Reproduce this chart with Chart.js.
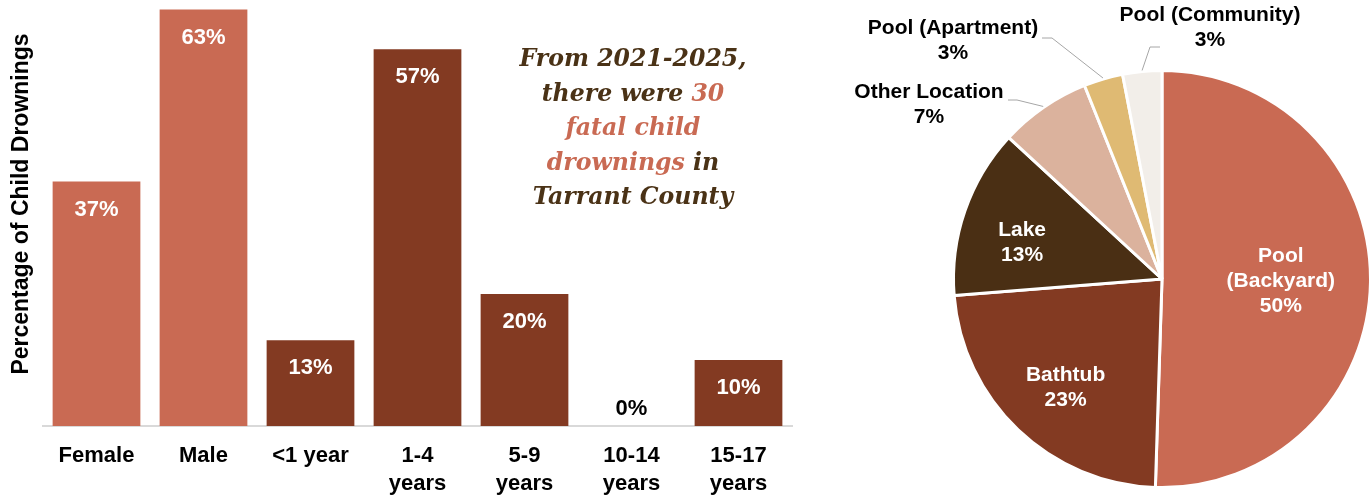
<!DOCTYPE html>
<html>
<head>
<meta charset="utf-8">
<script src="https://cdn.jsdelivr.net/npm/chart.js@4.4.0/dist/chart.umd.min.js"></script>
<style>
  body{margin:0;background:#fff;width:1372px;height:497px;overflow:hidden;position:relative;font-family:"Liberation Sans",Arial,sans-serif}
  #barCanvas{position:absolute;left:0;top:0}
  #pieCanvas{position:absolute;left:840px;top:0}
  #note{position:absolute;left:498px;top:41px;width:270px;text-align:center;font-family:"DejaVu Serif",Georgia,serif;font-weight:bold;font-style:italic;font-size:23.6px;line-height:34.5px;color:#4a3216}
  #note .hl{color:#c96a53}
</style>
</head>
<body>
<canvas id="barCanvas" width="800" height="514"></canvas>
<div id="note">From 2021-2025,<br>there were <span class="hl">30</span><br><span class="hl">fatal child</span><br><span class="hl">drownings</span> in<br>Tarrant County</div>
<canvas id="pieCanvas" width="532" height="497"></canvas>
<script>
// bar: share of child drownings by sex and age
const barCategories = ['Female','Male','<1 year',['1-4','years'],['5-9','years'],['10-14','years'],['15-17','years']];
const barValues = [37,63,13,57,20,0,10];
const yTitle = 'Percentage of Child Drownings';

// pie: drowning location
const pieCategories = [['Pool','(Backyard)'],['Bathtub'],['Lake'],['Other Location'],['Pool (Apartment)'],['Pool (Community)']];
const pieValues = [50,23,13,7,3,3];

const salmon = '#c96a53', brown = '#833a22';
const barColors = [salmon,salmon,brown,brown,brown,brown,brown];
const pieColors = [salmon,brown,'#4a2f14','#dbb29d','#dfba73','#f2eee9'];
const font = '"Liberation Sans", Arial, sans-serif';

// inside labels sit at a fraction of the radius, callouts get leader lines
const pieLabelSpots = [
  {inside:0.57, dy:0},
  {inside:0.67, dy:8},
  {inside:0.71, dy:12},
  {text:[89,92], elbow:[177,100], end:[168,100]},
  {text:[113,28], elbow:[212,38], end:[202,38]},
  {text:[370,15], elbow:[310,47], end:[320,47]}
];

// y title drawn by hand so it can sit a bit above the plot centre like the original
const yTitlePlugin = {
  id:'yTitlePlugin',
  afterDraw(chart){
    const ctx = chart.ctx;
    ctx.save();
    ctx.translate(22, 204);
    ctx.rotate(-Math.PI/2);
    ctx.font = 'bold 23px ' + font;
    ctx.fillStyle = '#000';
    ctx.textAlign = 'center';
    ctx.textBaseline = 'middle';
    ctx.fillText(yTitle, 0, 0);
    ctx.restore();
  }
};

const barLabels = {
  id:'barLabels',
  afterDatasetsDraw(chart){
    const ctx = chart.ctx;
    ctx.save();
    ctx.font = 'bold 22px ' + font;
    ctx.textAlign = 'center';
    ctx.textBaseline = 'middle';
    chart.getDatasetMeta(0).data.forEach((bar,i)=>{
      const v = barValues[i];
      if(v>0){ctx.fillStyle='#fff';ctx.fillText(v+'%',bar.x,bar.y+28);}
      else{ctx.fillStyle='#000';ctx.fillText(v+'%',bar.x,bar.y-17);}
    });
    ctx.restore();
  }
};

const pieLabels = {
  id:'pieLabels',
  afterDatasetsDraw(chart){
    const ctx = chart.ctx;
    ctx.save();
    ctx.font = 'bold 21px ' + font;
    ctx.textAlign = 'center';
    ctx.textBaseline = 'middle';
    chart.getDatasetMeta(0).data.forEach((arc,i)=>{
      const lines = [...pieCategories[i], pieValues[i]+'%'];
      const spot = pieLabelSpots[i];
      const mid = (arc.startAngle+arc.endAngle)/2;
      let x, y;
      if(spot.inside){
        const r = arc.outerRadius*spot.inside;
        x = arc.x + Math.cos(mid)*r;
        y = arc.y + Math.sin(mid)*r - (lines.length-1)*25/2 + spot.dy;
        ctx.fillStyle = '#fff';
      } else {
        const r = arc.outerRadius + 1;
        ctx.strokeStyle = '#a6a6a6';
        ctx.lineWidth = 1;
        ctx.beginPath();
        ctx.moveTo(arc.x+Math.cos(mid)*r, arc.y+Math.sin(mid)*r);
        ctx.lineTo(spot.elbow[0], spot.elbow[1]);
        ctx.lineTo(spot.end[0], spot.end[1]);
        ctx.stroke();
        x = spot.text[0]; y = spot.text[1];
        ctx.fillStyle = '#000';
      }
      lines.forEach((t,j)=>ctx.fillText(t,x,y+j*25));
    });
    ctx.restore();
  }
};

new Chart(document.getElementById('barCanvas'),{
  type:'bar',
  data:{labels:barCategories,datasets:[{data:barValues,backgroundColor:barColors,categoryPercentage:0.82,barPercentage:1}]},
  options:{
    responsive:false,animation:false,
    layout:{padding:{left:43,right:8,top:3,bottom:0}},
    plugins:{legend:{display:false},tooltip:{enabled:false}},
    scales:{
      x:{grid:{display:false,drawTicks:false},border:{display:true,color:'#d9d9d9',width:2},
         ticks:{color:'#000',font:{family:font,size:22,weight:'bold',lineHeight:1.27},padding:16,maxRotation:0,autoSkip:false}},
      y:{min:0,max:64,display:false}
    }
  },
  plugins:[barLabels,yTitlePlugin]
});

new Chart(document.getElementById('pieCanvas'),{
  type:'pie',
  data:{labels:pieCategories.map(c=>c.join(' ')),datasets:[{data:pieValues,backgroundColor:pieColors,borderColor:'#fff',borderWidth:3}]},
  options:{
    responsive:false,animation:false,
    layout:{padding:{left:112,right:0,top:69,bottom:8}},
    plugins:{legend:{display:false},tooltip:{enabled:false}}
  },
  plugins:[pieLabels]
});
</script>
</body>
</html>
